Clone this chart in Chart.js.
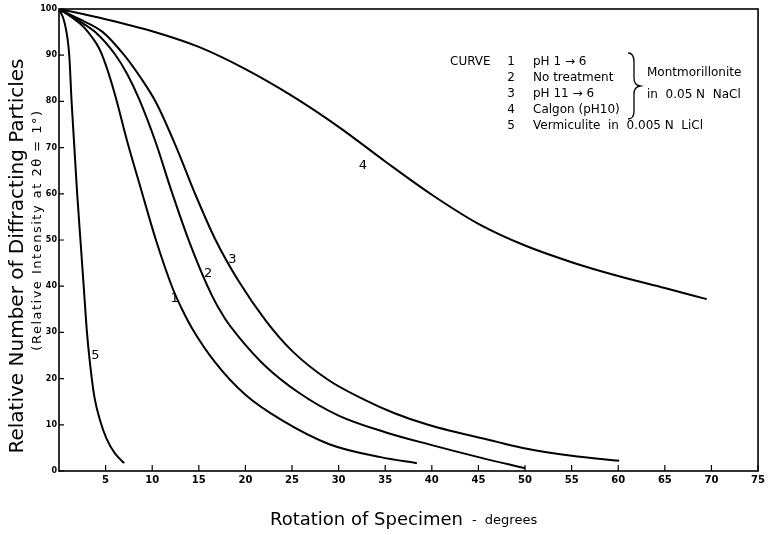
<!DOCTYPE html>
<html>
<head>
<meta charset="utf-8">
<script src="https://cdn.jsdelivr.net/npm/chart.js@4/dist/chart.umd.min.js"></script>
<style>
  html, body { margin: 0; padding: 0; background: #fff; }
  #wrap { width: 768px; height: 535px; }
</style>
</head>
<body>
<div id="wrap"><canvas id="myChart" width="768" height="535"></canvas></div>
<script>
// rotation of specimen (degrees) and relative number of diffracting particles
const curve1X = [0, 1.5, 2.6, 3.5, 4.3, 5.0, 6.0, 7.3, 8.8, 10.4, 12.2, 13.2, 14.3, 16.8, 20.0, 23.9, 29.0, 34.5, 38.4];
const curve1Y = [100, 98, 96.2, 94, 91.5, 88, 81.5, 71.5, 61, 50, 39.5, 35, 30.8, 23.4, 16.5, 11.0, 5.8, 3.0, 1.7];

const curve2X = [0, 2.0, 4.0, 6.0, 7.3, 8.6, 10.4, 12.0, 14.0, 16.4, 17.8, 19.3, 22.1, 25.7, 30.0, 35.0, 40.0, 45.0, 50.0];
const curve2Y = [100, 97.6, 94.8, 90.2, 86, 80.5, 71, 61, 49.5, 38, 33, 29.0, 22.8, 17.0, 12.0, 8.4, 5.6, 3.0, 0.6];

const curve3X = [0, 2.0, 4.7, 7.0, 8.8, 10.4, 12.6, 14.6, 16.8, 19.3, 22.2, 25.0, 28.9, 32.8, 36.0, 39.6, 47.0, 50.2, 55.0, 60.1];
const curve3Y = [100, 98, 95, 90, 85, 79.8, 70, 60, 50, 41, 32.5, 26, 19.7, 15.4, 12.5, 10.0, 6.3, 4.8, 3.3, 2.2];

const curve4X = [0, 5, 10, 15, 20, 25, 30, 35, 40, 45, 50, 55, 60, 65, 69.5];
const curve4Y = [100, 97.8, 95.2, 91.8, 87, 81.2, 74.5, 67, 59.8, 53.5, 48.8, 45.2, 42.2, 39.6, 37.2];

const curve5X = [0, 0.6, 1.1, 1.35, 1.65, 1.95, 2.3, 2.65, 3.0, 3.4, 3.8, 4.4, 5.1, 6.0, 7.0];
const curve5Y = [100, 97, 90, 80, 70, 60, 50, 40, 30, 22, 16, 11, 7, 3.8, 1.7];

const xTicks = [0, 5, 10, 15, 20, 25, 30, 35, 40, 45, 50, 55, 60, 65, 70, 75];
const yTicks = [0, 10, 20, 30, 40, 50, 60, 70, 80, 90, 100];

const curveNames = ['1', '2', '3', '4', '5'];
// where the curve numbers sit, in data units
const labelAt = [[12.4, 37.4], [16.0, 42.8], [18.6, 45.8], [32.6, 66.0], [3.9, 25.0]];

const legendNums = ['1', '2', '3', '4', '5'];
const legendTexts = ['pH 1 \u2192 6', 'No treatment', 'pH 11 \u2192 6', 'Calgon (pH10)', 'Vermiculite  in  0.005 N  LiCl'];

function pts(xs, ys) {
    return xs.map((x, i) => ({ x: x, y: ys[i] }));
}

const series = [
    pts(curve1X, curve1Y),
    pts(curve2X, curve2Y),
    pts(curve3X, curve3Y),
    pts(curve4X, curve4Y),
    pts(curve5X, curve5Y)
];

const hand = '"DejaVu Sans", sans-serif';

const extras = {
    id: 'extras',
    afterDraw(chart) {
        const c = chart.ctx;
        const a = chart.chartArea;
        const xs = chart.scales.x;
        const ys = chart.scales.y;
        c.save();
        c.strokeStyle = '#000';
        c.fillStyle = '#000';

        // frame
        c.lineWidth = 1.6;
        c.strokeRect(a.left, a.top, a.right - a.left, a.bottom - a.top);

        // inside tick marks
        c.lineWidth = 1.2;
        c.beginPath();
        xTicks.forEach(v => {
            if (v === 0) return;
            const p = xs.getPixelForValue(v);
            c.moveTo(p, a.bottom);
            c.lineTo(p, a.bottom - 6);
        });
        yTicks.forEach(v => {
            const p = ys.getPixelForValue(v);
            c.moveTo(a.left, p);
            c.lineTo(a.left + 5, p);
        });
        c.stroke();

        // curve numbers
        c.font = '13px ' + hand;
        c.textAlign = 'center';
        c.textBaseline = 'middle';
        labelAt.forEach((p, i) => {
            c.fillText(curveNames[i], xs.getPixelForValue(p[0]), ys.getPixelForValue(p[1]));
        });

        // legend block
        c.font = '12px ' + hand;
        c.textAlign = 'left';
        c.fillText('CURVE', 450, 62);
        legendNums.forEach((n, i) => {
            c.textAlign = 'center';
            c.fillText(n, 511, 62 + i * 16);
            c.textAlign = 'left';
            c.fillText(legendTexts[i], 533, 62 + i * 16);
        });
        c.fillText('Montmorillonite', 647, 73);
        c.fillText('in  0.05 N  NaCl', 647, 95);

        // brace
        c.lineWidth = 1.3;
        c.beginPath();
        c.moveTo(628, 53);
        c.quadraticCurveTo(634, 53, 634, 62);
        c.lineTo(634, 78);
        c.quadraticCurveTo(634, 85, 640, 86);
        c.quadraticCurveTo(634, 87, 634, 94);
        c.lineTo(634, 111);
        c.quadraticCurveTo(634, 119, 628, 119);
        c.stroke();

        // axis titles
        c.textAlign = 'left';
        c.font = '18px ' + hand;
        c.fillText('Rotation of Specimen', 270, 520);
        const w = c.measureText('Rotation of Specimen').width;
        c.font = '13px ' + hand;
        c.fillText('-  degrees', 270 + w + 9, 521);

        c.textAlign = 'center';
        c.translate(18, 256);
        c.rotate(-Math.PI / 2);
        c.font = '20px ' + hand;
        c.fillText('Relative Number of Diffracting Particles', 0, 0);
        c.font = '13px ' + hand;
        c.letterSpacing = '1.5px';
        c.fillText('(Relative Intensity at 2\u03b8 = 1\u00b0)', 26, 20);
        c.restore();
    }
};

const ctx = document.getElementById('myChart').getContext('2d');
const myChart = new Chart(ctx, {
    type: 'line',
    data: {
        datasets: series.map((d, i) => ({
            label: 'Curve ' + curveNames[i],
            data: d,
            borderColor: '#000',
            borderWidth: 2,
            pointRadius: 0,
            fill: false,
            cubicInterpolationMode: 'monotone'
        }))
    },
    options: {
        responsive: false,
        animation: false,
        layout: { padding: { left: 0, right: 5, top: 9, bottom: 0 } },
        plugins: { legend: { display: false }, tooltip: { enabled: false } },
        scales: {
            x: {
                type: 'linear',
                min: 0,
                max: 75,
                afterFit: s => { s.height = 64; },
                afterBuildTicks: s => { s.ticks = xTicks.map(v => ({ value: v })); },
                grid: { display: false, drawTicks: false },
                border: { display: false },
                ticks: {
                    color: '#000',
                    padding: 3,
                    font: { family: hand, size: 10, weight: 'bold' },
                    callback: v => (v === 0 ? '' : v)
                }
            },
            y: {
                min: 0,
                max: 100,
                afterFit: s => { s.width = 59; },
                afterBuildTicks: s => { s.ticks = yTicks.map(v => ({ value: v })); },
                grid: { display: false, drawTicks: false },
                border: { display: false },
                ticks: {
                    color: '#000',
                    padding: 2,
                    font: { family: hand, size: 8, weight: 'bold' }
                }
            }
        }
    },
    plugins: [extras]
});
</script>
</body>
</html>
